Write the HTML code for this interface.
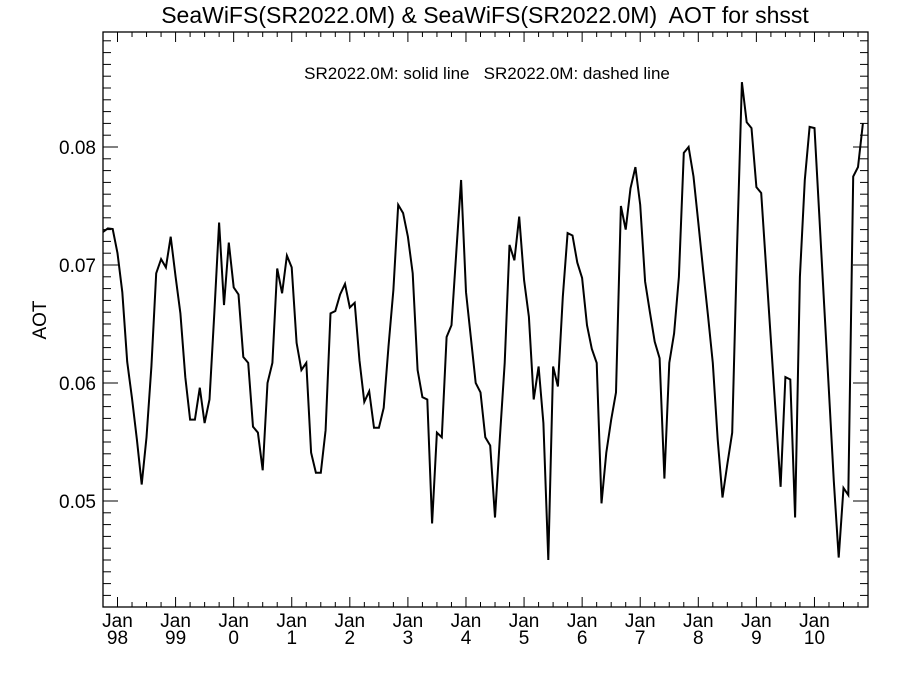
<!DOCTYPE html>
<html><head><meta charset="utf-8"><style>
body{margin:0;background:#fff}
svg{display:block;font-family:"Liberation Sans",sans-serif}
</style></head><body>
<svg id="chart" width="900" height="675" viewBox="0 0 900 675" xmlns="http://www.w3.org/2000/svg">
<rect width="900" height="675" fill="#fff"/>
<text x="485" y="23" font-size="23" text-anchor="middle" style="white-space:pre">SeaWiFS(SR2022.0M) &amp; SeaWiFS(SR2022.0M)  AOT for shsst</text>
<text x="487" y="79" font-size="17" text-anchor="middle" style="white-space:pre">SR2022.0M: solid line   SR2022.0M: dashed line</text>
<text x="46" y="320" font-size="19" text-anchor="middle" transform="rotate(-90 46 320)">AOT</text>
<g id="axes"></g>
<g id="series"></g>
</svg>
<script>
const yearLabels=["98","99","0","1","2","3","4","5","6","7","8","9","10"];
const yTickValues=[0.05,0.06,0.07,0.08];
const yTickLabels=["0.05","0.06","0.07","0.08"];
const startMonth=-3; // months relative to Jan 1998
const aotValues=[72.8,73.1,73.05,71.0,67.7,61.8,58.7,55.2,51.4,55.4,61.4,69.3,70.5,69.8,72.4,69.0,65.9,60.5,56.9,56.9,59.6,56.6,58.6,65.9,73.6,66.6,71.9,68.1,67.5,62.2,61.7,56.3,55.8,52.6,60.0,61.7,69.7,67.6,70.8,69.8,
63.4,61.1,61.7,54.1,52.4,52.4,56.0,65.9,66.1,67.5,68.4,66.4,66.8,61.9,58.4,59.3,56.2,56.2,57.9,63.1,67.9,75.1,74.4,72.4,69.3,61.1,58.8,58.6,48.1,55.8,55.4,63.9,64.9,71.1,77.2,67.7,63.9,60.0,59.2,55.4,
54.7,48.6,55.4,61.7,71.7,70.4,74.1,68.7,65.6,58.6,61.4,56.6,45.0,61.4,59.7,67.3,72.7,72.5,70.2,68.9,64.9,62.9,61.7,49.8,54.1,56.9,59.2,75.0,73.0,76.5,78.3,75.1,68.6,66.0,63.5,62.1,51.9,61.7,64.2,
69.0,79.5,80.0,77.5,73.6,69.6,65.7,61.7,55.2,50.3,53.1,55.8,71.3,85.5,82.1,81.6,76.6,76.1,69.8,63.6,57.4,51.2,60.5,60.3,48.6,69.0,77.2,81.7,81.6,74.2,66.7,59.2,51.7,45.2,51.1,50.5,77.5,78.3,82.0].map(v=>v/1000);

const L=103,R=868,T=32,B=607;
const xJan98=117.5,pxMonth=4.84;
function xs(m){return xJan98+m*pxMonth;}
function ys(v){return 147+(0.08-v)*11800;}
const NS="http://www.w3.org/2000/svg";
const axes=document.getElementById('axes');
function mk(tag,attrs,parent){const e=document.createElementNS(NS,tag);for(const k in attrs)e.setAttribute(k,attrs[k]);parent.appendChild(e);return e;}

const frame=mk('rect',{x:L,y:T,width:R-L,height:B-T,fill:'none',stroke:'#000','stroke-width':1.3},axes);



for(let m=-3;m<=156;m+=3){
  const x=xs(m); if(x<L+1||x>R-1) continue;
  const major=(m%12===0); const len=major?10:5;
  const t1=mk('line',{x1:x,y1:B,x2:x,y2:B-len,stroke:'#000','stroke-width':1},axes);
  
  
  const t2=mk('line',{x1:x,y1:T,x2:x,y2:T+len,stroke:'#000','stroke-width':1},axes);
  
  
}
yearLabels.forEach((lab,i)=>{
  const x=xs(i*12);
  const a=mk('text',{x:x,y:627,'font-size':19,'text-anchor':'middle'},axes);a.textContent='Jan';
  
  
  const b=mk('text',{x:x,y:644,'font-size':19,'text-anchor':'middle'},axes);b.textContent=lab;
  
  
});
for(let k=42;k<=89;k++){
  const v=k/1000,y=ys(v); const major=(k%10===0); const len=major?15:8;
  const a=mk('line',{x1:L,y1:y,x2:L+len,y2:y,stroke:'#000','stroke-width':1},axes);
  
  
  const b=mk('line',{x1:R,y1:y,x2:R-len,y2:y,stroke:'#000','stroke-width':1},axes);
  
  
}
yTickValues.forEach((v,i)=>{
  const t=mk('text',{x:96,y:ys(v)+7,'font-size':19,'text-anchor':'end'},axes);t.textContent=yTickLabels[i];
  
  
});
const pts=aotValues.map((v,i)=>xs(startMonth+i).toFixed(1)+','+ys(v).toFixed(1)).join(' ');
const line=mk('polyline',{points:pts,fill:'none',stroke:'#000','stroke-width':2,'stroke-linejoin':'miter'},document.getElementById('series'));


</script>
</body></html>
